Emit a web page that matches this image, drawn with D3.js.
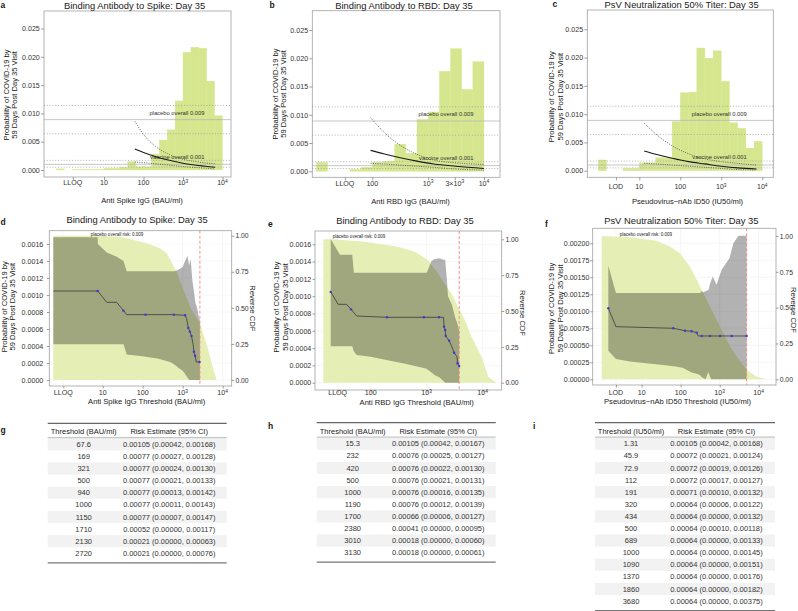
<!DOCTYPE html>
<html><head><meta charset="utf-8">
<script src="https://cdn.jsdelivr.net/npm/d3@7"></script>
<style>
body{margin:0;background:#fff;}
svg{display:block;font-family:"Liberation Sans",Arial,Helvetica,sans-serif;}
</style></head><body>
<svg id="fig" width="798" height="611"></svg>
<script>
// ================= DATA =================
// Top row histograms (log10 marker bins of width 0.2, heights read on the risk axis)
const histBinWidth = 0.2;
const spikeHistStart = -0.2;
const spikeHist = [0.0002,0,0.0001,0.0001,0.0001,0.0001,0.0003,0.0003,0.0005,0.0015,0.0006,0.0006,0.0028,0.0053,0.0071,0.0122,0.0208,0.0217,0.0215,0.0157,0.0096];
const rbdHistStart = 1.0;
const rbdHist = [0.0016,0,0,0.00035,0.0007,0.0016,0.0018,0.0048,0.0032,0.0092,0.0105,0.0177,0.0217,0.0145,0.0194];
const psvHistStart = 0.0;
const psvHist = [0.0019,0,0,0.0004,0.0004,0.0014,0.0014,0.0023,0.0023,0.0087,0.0138,0.0139,0.0217,0.0199,0.0212,0.0158,0.0085,0.0075,0.0040,0.0052];

// overall risks: [estimate, lower, upper]
const placeboOverall = [0.0089, 0.0064, 0.0114];
const vaccineOverall = [0.0010, 0.0005, 0.0017];

// Top row risk curves (x in log10 units)
const spikeCurveLog   = [1.78, 2.0, 2.3, 2.6, 3.0, 3.4, 3.81];
const spikeCurveRisk  = [0.0037, 0.0031, 0.0024, 0.0018, 0.0012, 0.0008, 0.00047];
const spikeCurveUpper = [0.0086, 0.0063, 0.0042, 0.0029, 0.0019, 0.0014, 0.0011];
const spikeCurveLower = [0.0014, 0.0013, 0.0011, 0.0009, 0.0006, 0.0004, 0.0002];
const rbdCurveLog   = [1.97, 2.2, 2.5, 2.8, 3.1, 3.5, 4.0];
const rbdCurveRisk  = [0.0037, 0.0031, 0.0024, 0.0018, 0.0013, 0.0009, 0.0005];
const rbdCurveUpper = [0.0095, 0.0070, 0.0046, 0.0030, 0.0020, 0.0015, 0.0012];
const rbdCurveLower = [0.0014, 0.0013, 0.0011, 0.0009, 0.0007, 0.0004, 0.0002];
const psvCurveLog   = [1.12, 1.4, 1.8, 2.2, 2.6, 3.0, 3.4, 3.86];
const psvCurveRisk  = [0.0035, 0.0029, 0.0022, 0.0016, 0.0012, 0.0008, 0.0005, 0.0003];
const psvCurveUpper = [0.0084, 0.0065, 0.0044, 0.0030, 0.0021, 0.0016, 0.0013, 0.0010];
const psvCurveLower = [0.0013, 0.0012, 0.0010, 0.0008, 0.0006, 0.0004, 0.0002, 0.0001];

// Axis ticks (log10) and labels
const topYTicks = [0, 0.005, 0.010, 0.015, 0.020, 0.025];
const spikeTickLog = [0.21, 1, 2, 3, 4];
const spikeTickLab = ["LLOQ", "10", "100", "10^3", "10^4"];
const rbdTickLog = [1.51, 2, 3, Math.log10(3000), 4];
const rbdTickLab = ["LLOQ", "100", "10^3", "3×10^3", "10^4"];
const psvTickLog = [0.43, 1, 2, 3, 4];
const psvTickLab = ["LOD", "10", "100", "10^3", "10^4"];
const spikeThrTickLog = [0.015, 1, 2, 3, 4];
const spikeThrTickLab = ["LLOQ", "10", "100", "10^3", "10^4"];
const rbdThrTickLog = [1.41, 2, 3, 4];
const rbdThrTickLab = ["LLOQ", "100", "10^3", "10^4"];
const psvThrTickLog = [0.34, 1, 2, 3, 4];
const psvThrTickLab = ["LOD", "10", "100", "10^3", "10^4"];
const cdfTicks = [0, 0.25, 0.5, 0.75, 1];
const riskTicksBinding = [0, 0.0002, 0.0004, 0.0006, 0.0008, 0.0010, 0.0012, 0.0014, 0.0016];
const riskTicksPsv = [0, 0.00025, 0.0005, 0.00075, 0.001, 0.00125, 0.0015, 0.00175, 0.002];

// Middle row: reverse CDF
const spikeCdfLog = [-0.235, 0.93, 1.5, 2.1, 2.43, 2.6, 2.85, 3.02, 3.22, 3.43, 3.64, 3.75, 3.85];
const spikeCdf    = [1, 1, 0.99, 0.947, 0.913, 0.878, 0.75, 0.624, 0.485, 0.393, 0.208, 0.09, 0];
const rbdCdfLog = [1.154, 1.30, 1.90, 2.49, 2.79, 3.02, 3.20, 3.35, 3.44, 3.56, 3.68, 3.80, 3.98, 4.10, 4.25];
const rbdCdf    = [1, 1, 0.983, 0.948, 0.913, 0.856, 0.763, 0.67, 0.623, 0.53, 0.437, 0.32, 0.18, 0.04, 0];
const psvCdfLog = [-0.026, 0.70, 1.38, 1.73, 1.98, 2.24, 2.50, 2.75, 3.01, 3.27, 3.44, 3.69, 3.95, 4.2];
const psvCdf    = [1, 0.991, 0.967, 0.925, 0.879, 0.786, 0.646, 0.507, 0.367, 0.228, 0.158, 0.065, 0.018, 0];

// Middle row: 95% CI ribbons
const spikeRibLog = [-0.235, 0.874, 0.88, 1.10, 1.35, 1.52, 1.60, 2.00, 2.40, 2.70, 2.80, 2.90, 3.00, 3.06, 3.12, 3.16, 3.20, 3.24, 3.28, 3.32, 3.36, 3.40, 3.43];
const spikeRibLo  = [0.00042, 0.00042, 0.00042, 0.00042, 0.00042, 0.00042, 0.00030, 0.00028, 0.00025, 0.00021, 0.00018, 0.00014, 0.00011, 0.00007, 0.00003, 0, 0, 0, 0, 0, 0, 0, 0];
const spikeRibHi  = [0.00168, 0.00168, 0.00160, 0.00150, 0.00145, 0.00140, 0.00128, 0.00128, 0.00128, 0.00128, 0.00128, 0.00130, 0.00133, 0.00140, 0.00146, 0.00135, 0.00142, 0.00118, 0.00105, 0.00090, 0.00085, 0.00075, 0.00070];
const rbdRibLog = [1.286, 1.45, 1.67, 1.70, 1.75, 2.00, 2.37, 2.62, 3.00, 3.02, 3.08, 3.14, 3.23, 3.30, 3.33, 3.36, 3.38, 3.45, 3.51, 3.55, 3.58];
const rbdRibLo  = [0.00042, 0.00042, 0.00042, 0.00036, 0.00032, 0.00030, 0.00025, 0.00022, 0.00016, 0.00015, 0.00012, 0.00009, 0.00006, 0.00002, 0, 0, 0, 0, 0, 0, 0];
const rbdRibHi  = [0.00166, 0.00148, 0.00148, 0.00127, 0.00127, 0.00127, 0.00127, 0.00127, 0.00127, 0.00130, 0.00140, 0.00143, 0.00144, 0.00142, 0.00142, 0.00120, 0.00100, 0.00090, 0.00075, 0.00068, 0.00060];
const psvRibLog = [0.144, 0.34, 0.70, 1.55, 1.86, 2.05, 2.28, 2.41, 2.50, 2.54, 2.58, 2.64, 2.70, 2.71, 2.75, 2.78, 2.82, 2.92, 3.05, 3.25, 3.35, 3.48, 3.69];
const psvRibLo  = [0.00042, 0.00030, 0.00026, 0.00021, 0.00019, 0.00017, 0.00010, 0.00008, 0.00006, 0.00003, 0.00002, 0, 0.00010, 0.00010, 0.00004, 0, 0, 0, 0, 0, 0, 0, 0];
const psvRibHi  = [0.00167, 0.00127, 0.00127, 0.00127, 0.00127, 0.00127, 0.00127, 0.00127, 0.00127, 0.00130, 0.00128, 0.00130, 0.00131, 0.00131, 0.00140, 0.00145, 0.00151, 0.00139, 0.00161, 0.00178, 0.00200, 0.00211, 0.00211];

// Middle row: threshold risk step line and points
const spikeLineLog  = [-0.235, 0.874, 1.10, 1.35, 1.52, 1.60, 2.78, 3.06, 3.10, 3.14, 3.18, 3.22, 3.26, 3.28, 3.31, 3.34, 3.42];
const spikeLineRisk = [0.001047, 0.001047, 0.000914, 0.000914, 0.000816, 0.000769, 0.000769, 0.000761, 0.00072, 0.000612, 0.000569, 0.000518, 0.00042, 0.000333, 0.000286, 0.000212, 0.000212];
const spikePtLog  = [0.874, 1.52, 2.07, 2.78, 3.06, 3.14, 3.18, 3.22, 3.28, 3.31, 3.42];
const spikePtRisk = [0.001047, 0.000816, 0.000769, 0.000769, 0.000761, 0.000612, 0.000569, 0.000518, 0.000333, 0.000286, 0.000212];
const rbdLineLog  = [1.286, 1.42, 1.57, 1.65, 1.75, 2.29, 3.30, 3.31, 3.33, 3.34, 3.40, 3.45, 3.49, 3.54, 3.55, 3.58];
const rbdLineRisk = [0.00105, 0.000906, 0.000906, 0.000848, 0.000771, 0.000756, 0.000756, 0.000647, 0.000609, 0.00054, 0.000486, 0.000416, 0.000347, 0.000301, 0.000224, 0.000193];
const rbdPtLog  = [1.286, 1.65, 2.29, 2.95, 3.22, 3.31, 3.33, 3.34, 3.40, 3.49, 3.55, 3.58];
const rbdPtRisk = [0.00105, 0.000848, 0.000756, 0.000756, 0.000756, 0.000647, 0.000609, 0.00054, 0.000486, 0.000347, 0.000224, 0.000193];
const psvLineLog  = [0.144, 0.34, 1.81, 2.11, 2.28, 2.41, 2.45, 3.69];
const psvLineRisk = [0.001044, 0.000774, 0.00075, 0.000715, 0.000706, 0.000686, 0.000637, 0.000637];
const psvPtLog  = [0.144, 1.81, 2.11, 2.28, 2.41, 2.54, 2.75, 3.01, 3.31, 3.69];
const psvPtRisk = [0.001044, 0.00075, 0.000715, 0.000706, 0.000686, 0.000637, 0.000637, 0.000637, 0.000637, 0.000637];
const spikeCutLog = 3.43, rbdCutLog = 3.58, psvCutLog = 3.69;

// Tables
const gThreshold = [67.6, 169, 321, 500, 940, 1000, 1150, 1710, 2130, 2720];
const gEst = [0.00105, 0.00077, 0.00077, 0.00077, 0.00077, 0.00077, 0.00077, 0.00052, 0.00021, 0.00021];
const gLo  = [0.00042, 0.00027, 0.00024, 0.00021, 0.00013, 0.00011, 0.00007, 0, 0, 0];
const gHi  = [0.00168, 0.00128, 0.00130, 0.00133, 0.00142, 0.00143, 0.00147, 0.00117, 0.00063, 0.00076];
const hThreshold = [15.3, 232, 420, 500, 1000, 1190, 1700, 2380, 3010, 3130];
const hEst = [0.00105, 0.00076, 0.00076, 0.00076, 0.00076, 0.00076, 0.00066, 0.00041, 0.00018, 0.00018];
const hLo  = [0.00042, 0.00025, 0.00022, 0.00021, 0.00016, 0.00012, 0.00006, 0, 0, 0];
const hHi  = [0.00167, 0.00127, 0.00130, 0.00131, 0.00135, 0.00139, 0.00127, 0.00095, 0.00060, 0.00061];
const iThreshold = [1.31, 45.9, 72.9, 112, 191, 320, 434, 500, 689, 1000, 1090, 1370, 1860, 3680];
const iEst = [0.00105, 0.00072, 0.00072, 0.00072, 0.00071, 0.00064, 0.00064, 0.00064, 0.00064, 0.00064, 0.00064, 0.00064, 0.00064, 0.00064];
const iLo  = [0.00042, 0.00021, 0.00019, 0.00017, 0.00010, 0.00006, 0, 0.00010, 0, 0, 0, 0, 0, 0];
const iHi  = [0.00168, 0.00124, 0.00126, 0.00127, 0.00132, 0.00122, 0.00132, 0.00118, 0.00133, 0.00145, 0.00151, 0.00176, 0.00182, 0.00375];

// ================= DRAWING =================
const svg = d3.select("#fig");
const FONT = '"Liberation Sans", Arial, Helvetica, sans-serif';
const HIST = "#d5e68e";
const LIGHT = "#e5eeb5";
const TXT = "#1a1a1a";
const TICKTXT = "#333";

function rich(sel, label) {
  const parts = label.split("^");
  sel.append("tspan").text(parts[0]);
  if (parts.length > 1) sel.append("tspan").attr("font-size", "0.7em").attr("dy", "-0.5em").text(parts[1]);
}
function txt(x, y, s, size, opts = {}) {
  const t = svg.append("text").attr("x", x).attr("y", y).attr("dy", "0.35em")
    .attr("font-size", size).attr("fill", opts.fill || TXT)
    .attr("text-anchor", opts.anchor || "middle").attr("font-family", FONT);
  if (opts.bold) t.attr("font-weight", "bold");
  if (opts.rotate != null) t.attr("transform", `rotate(${opts.rotate},${x},${y})`);
  t.text(s);
  return t;
}
function styleAxis(s, size) {
  s.attr("font-family", FONT);
  s.select(".domain").remove();
  s.selectAll("line").attr("stroke", "#777").attr("stroke-width", 0.7);
  s.selectAll("text").attr("font-size", size).attr("fill", TICKTXT);
}

function topPanel(p) {
  const g = svg.append("g");
  const [bx0, bx1, by0, by1] = p.box;
  const x = d3.scaleLinear().domain(p.xDomain).range(p.xRange);
  const y = d3.scaleLinear().domain([0, 0.025]).range(p.yRange);
  g.append("g").selectAll("rect").data(p.hist).join("rect")
    .attr("x", (d, i) => x(p.histStart + i * histBinWidth))
    .attr("width", (d, i) => x(p.histStart + (i + 1) * histBinWidth) - x(p.histStart + i * histBinWidth))
    .attr("y", d => y(d)).attr("height", d => y(0) - y(d))
    .attr("fill", HIST).attr("stroke", HIST).attr("stroke-width", 0.3);
  const fmt = d3.format(".3f");
  [[placeboOverall, "placebo overall ", 4.6], [vaccineOverall, "vaccine overall ", 5.6]].forEach(([arr, lab, off]) => {
    arr.forEach((v, j) => {
      g.append("line").attr("x1", bx0).attr("x2", bx1).attr("y1", y(v)).attr("y2", y(v))
        .attr("stroke", j === 0 ? "#b8b8b8" : "#a0a0a0").attr("stroke-width", 0.8)
        .attr("stroke-dasharray", j === 0 ? null : "1,1.8");
    });
    g.append("text").attr("x", bx1 - 26.5).attr("y", y(arr[0]) - off).attr("text-anchor", "end")
      .attr("font-size", 5.8).attr("fill", "#333").attr("font-family", FONT).text(lab + fmt(arr[0]));
  });
  const line = d3.line().x(d => x(d[0])).y(d => y(d[1])).curve(d3.curveMonotoneX);
  const pts = arr => p.curveLog.map((l, i) => [l, arr[i]]);
  g.append("path").attr("d", line(pts(p.upper))).attr("fill", "none").attr("stroke", "#444").attr("stroke-width", 0.8).attr("stroke-dasharray", "1,1.3");
  g.append("path").attr("d", line(pts(p.lower))).attr("fill", "none").attr("stroke", "#444").attr("stroke-width", 0.8).attr("stroke-dasharray", "1,1.3");
  g.append("path").attr("d", line(pts(p.risk))).attr("fill", "none").attr("stroke", "#1a1a1a").attr("stroke-width", 1.1);
  g.append("rect").attr("x", bx0).attr("y", by0).attr("width", bx1 - bx0).attr("height", by1 - by0)
    .attr("fill", "none").attr("stroke", "#a0a0a0").attr("stroke-width", 0.8);
  g.append("g").attr("transform", `translate(${bx0},0)`)
    .call(d3.axisLeft(y).tickValues(topYTicks).tickFormat(d3.format(".3f")).tickSize(3).tickPadding(1.2))
    .call(s => styleAxis(s, 7.1));
  g.append("g").attr("transform", `translate(0,${by1})`)
    .call(d3.axisBottom(x).tickValues(p.ticks).tickFormat("").tickSize(3))
    .call(s => styleAxis(s, 7.1));
  p.ticks.forEach((t, i) => {
    const e = svg.append("text").attr("x", x(t)).attr("y", p.tickY).attr("dy", "0.35em").attr("text-anchor", "middle")
      .attr("font-size", 7.1).attr("fill", TICKTXT).attr("font-family", FONT);
    rich(e, p.tickLab[i]);
  });
  txt(p.title[1], p.title[2], p.title[0], 9.4);
  txt(p.letter[1], p.letter[2], p.letter[0], 8.5, { bold: true, anchor: "start" });
  txt(p.xtitle[1], p.xtitle[2], p.xtitle[0], 7.6);
  txt(p.ylx[0], p.yly, "Probability of COVID-19 by", 7.6, { rotate: -90 });
  txt(p.ylx[1], p.yly, "59 Days Post Day 35 Visit", 7.6, { rotate: -90 });
}

function midPanel(p) {
  const g = svg.append("g");
  const [bx0, bx1, by0, by1] = p.box;
  const x = d3.scaleLinear().domain(p.xDomain).range(p.xRange);
  const yL = d3.scaleLinear().domain([0, p.yRef]).range(p.yLRange);
  const yR = d3.scaleLinear().domain([0, 1]).range(p.yRRange);
  p.yTicks.forEach(v => g.append("line").attr("x1", bx0).attr("x2", bx1).attr("y1", yL(v)).attr("y2", yL(v)).attr("stroke", "#ececec").attr("stroke-width", 0.5));
  p.ticks.forEach(v => g.append("line").attr("x1", x(v)).attr("x2", x(v)).attr("y1", by0).attr("y2", by1).attr("stroke", "#ececec").attr("stroke-width", 0.5));
  g.append("path").datum(p.cdfLog.map((l, i) => [l, p.cdf[i]]))
    .attr("d", d3.area().x(d => x(d[0])).y0(yR(0)).y1(d => yR(d[1])))
    .attr("fill", LIGHT);
  g.append("path").datum(p.ribLog.map((l, i) => [l, p.ribLo[i], p.ribHi[i]]))
    .attr("d", d3.area().x(d => x(d[0])).y0(d => yL(d[1])).y1(d => yL(d[2])))
    .attr("fill", "#000").attr("fill-opacity", 0.3);
  g.append("line").attr("x1", x(p.cut)).attr("x2", x(p.cut)).attr("y1", by0).attr("y2", by1)
    .attr("stroke", "#f2837a").attr("stroke-width", 0.9).attr("stroke-dasharray", "3,2");
  g.append("path").attr("d", d3.line().x(d => x(d[0])).y(d => yL(d[1]))(p.lineLog.map((l, i) => [l, p.lineRisk[i]])))
    .attr("fill", "none").attr("stroke", "#3a3a3a").attr("stroke-width", 0.8);
  g.selectAll("circle").data(p.ptLog.map((l, i) => [l, p.ptRisk[i]])).join("circle")
    .attr("cx", d => x(d[0])).attr("cy", d => yL(d[1])).attr("r", 1.2).attr("fill", "#3b3bd0");
  g.append("rect").attr("x", bx0).attr("y", by0).attr("width", bx1 - bx0).attr("height", by1 - by0)
    .attr("fill", "none").attr("stroke", "#a0a0a0").attr("stroke-width", 0.8);
  txt(p.note[0], p.note[1], "placebo overall risk: 0.009", 4.5, { fill: "#222" });
  g.append("g").attr("transform", `translate(${bx0},0)`)
    .call(d3.axisLeft(yL).tickValues(p.yTicks).tickFormat(d3.format(p.yFmt)).tickSize(2.5).tickPadding(p.lpad))
    .call(s => styleAxis(s, 7.1));
  g.append("g").attr("transform", `translate(${bx1},0)`)
    .call(d3.axisRight(yR).tickValues(cdfTicks).tickFormat(d3.format(".2f")).tickSize(2.5).tickPadding(1.2))
    .call(s => styleAxis(s, 6.8));
  g.append("g").attr("transform", `translate(0,${by1})`)
    .call(d3.axisBottom(x).tickValues(p.ticks).tickFormat("").tickSize(2.5))
    .call(s => styleAxis(s, 7.1));
  p.ticks.forEach((t, i) => {
    const e = svg.append("text").attr("x", x(t)).attr("y", p.tickY).attr("dy", "0.35em").attr("text-anchor", "middle")
      .attr("font-size", 7.1).attr("fill", TICKTXT).attr("font-family", FONT);
    rich(e, p.tickLab[i]);
  });
  txt(p.title[1], p.title[2], p.title[0], 9.4);
  txt(p.letter[1], p.letter[2], p.letter[0], 8.5, { bold: true, anchor: "start" });
  txt(p.xtitle[1], p.xtitle[2], p.xtitle[0], 7.6);
  txt(p.ylx[0], p.yly, "Probability of COVID-19 by", 7.6, { rotate: -90 });
  txt(p.ylx[1], p.yly, "59 Days Post Day 35 Visit", 7.6, { rotate: -90 });
  txt(p.rt[0], p.rt[1], "Reverse CDF", 7.6, { rotate: 90 });
}

function table(p) {
  const g = svg.append("g");
  const [x0, x1] = p.xs, top = p.top, rowH = 12.1;
  const c1 = x0 + 36, c2 = x0 + 121.5;
  const f5 = d3.format(".5f");
  const rowsTop = top + 15;
  p.thr.forEach((t, i) => {
    const ry = rowsTop + i * rowH;
    if (i % 2 === 0) g.append("rect").attr("x", x0).attr("y", ry).attr("width", x1 - x0).attr("height", rowH).attr("fill", "#f2f2f2");
    txt(c1, ry + rowH / 2, String(t), 7.5, { fill: "#333" });
    txt(c2, ry + rowH / 2, `${f5(p.est[i])} (${f5(p.lo[i])}, ${f5(p.hi[i])})`, 7.5, { fill: "#333" });
  });
  const end = rowsTop + p.thr.length * rowH + 3.5;
  g.append("line").attr("x1", x0).attr("x2", x1).attr("y1", top).attr("y2", top).attr("stroke", "#666").attr("stroke-width", 1.3);
  g.append("line").attr("x1", x0).attr("x2", x1).attr("y1", top + 14.4).attr("y2", top + 14.4).attr("stroke", "#b0b0b0").attr("stroke-width", 0.9);
  g.append("line").attr("x1", x0).attr("x2", x1).attr("y1", end).attr("y2", end).attr("stroke", "#777").attr("stroke-width", 1.3);
  txt(c1, top + 8.4, p.head, 7.5, { fill: "#222" });
  txt(c2, top + 8.4, "Risk Estimate (95% CI)", 7.5, { fill: "#222" });
  txt(p.letter[1], p.letter[2], p.letter[0], 8.5, { bold: true, anchor: "start" });
}

// ---- top row ----
topPanel({ box: [44, 231, 11, 177], xDomain: [1, 4], xRange: [104, 222.5], yRange: [170, 28.5],
  hist: spikeHist, histStart: spikeHistStart, curveLog: spikeCurveLog, risk: spikeCurveRisk, upper: spikeCurveUpper, lower: spikeCurveLower,
  ticks: spikeTickLog, tickLab: spikeTickLab, tickY: 183,
  title: ["Binding Antibody to Spike: Day 35", 134.5, 6], letter: ["a", 0.5, 5], xtitle: ["Anti Spike IgG (BAU/ml)", 142, 200.7],
  ylx: [6, 14], yly: 95 });
topPanel({ box: [312.3, 500, 10.7, 177.3], xDomain: [2, 4], xRange: [372.3, 484], yRange: [171.3, 30],
  hist: rbdHist, histStart: rbdHistStart, curveLog: rbdCurveLog, risk: rbdCurveRisk, upper: rbdCurveUpper, lower: rbdCurveLower,
  ticks: rbdTickLog, tickLab: rbdTickLab, tickY: 183.3,
  title: ["Binding Antibody to RBD: Day 35", 404, 6], letter: ["b", 269.5, 5], xtitle: ["Anti RBD IgG (BAU/ml)", 410.5, 201],
  ylx: [275, 283.3], yly: 94 });
topPanel({ box: [587.3, 773.3, 10, 177.3], xDomain: [1, 4], xRange: [639.3, 762.3], yRange: [170.7, 29.3],
  hist: psvHist, histStart: psvHistStart, curveLog: psvCurveLog, risk: psvCurveRisk, upper: psvCurveUpper, lower: psvCurveLower,
  ticks: psvTickLog, tickLab: psvTickLab, tickY: 186.5,
  title: ["PsV Neutralization 50% Titer: Day 35", 681.7, 4.5], letter: ["c", 552.5, 4.5], xtitle: ["Pseudovirus\u2212nAb ID50 (IU50/ml)", 687.5, 201],
  ylx: [551.7, 560], yly: 96.7 });

// ---- middle row ----
midPanel({ box: [49.3, 231.7, 230.7, 386], xDomain: [1, 4], xRange: [102.7, 222.7], yRef: 0.0016, yLRange: [380, 244], yRRange: [380, 235.7],
  yTicks: riskTicksBinding, yFmt: ".4f", lpad: 3.5, ticks: spikeThrTickLog, tickLab: spikeThrTickLab, tickY: 392.7,
  cdfLog: spikeCdfLog, cdf: spikeCdf, ribLog: spikeRibLog, ribLo: spikeRibLo, ribHi: spikeRibHi,
  lineLog: spikeLineLog, lineRisk: spikeLineRisk, ptLog: spikePtLog, ptRisk: spikePtRisk, cut: spikeCutLog,
  note: [117, 234.3], title: ["Binding Antibody to Spike: Day 35", 137, 220], letter: ["d", 0.5, 222.5],
  xtitle: ["Anti Spike IgG Threshold (BAU/ml)", 146.7, 401.7], ylx: [4.2, 12.7], yly: 306.7, rt: [253, 308.3] });
midPanel({ box: [315, 501.7, 231, 390], xDomain: [2, 4], xRange: [370.7, 482.7], yRef: 0.0016, yLRange: [382.7, 244.3], yRRange: [382.7, 239.3],
  yTicks: riskTicksBinding, yFmt: ".4f", lpad: 1.2, ticks: rbdThrTickLog, tickLab: rbdThrTickLab, tickY: 392.7,
  cdfLog: rbdCdfLog, cdf: rbdCdf, ribLog: rbdRibLog, ribLo: rbdRibLo, ribHi: rbdRibHi,
  lineLog: rbdLineLog, lineRisk: rbdLineRisk, ptLog: rbdPtLog, ptRisk: rbdPtRisk, cut: rbdCutLog,
  note: [359, 236.7], title: ["Binding Antibody to RBD: Day 35", 405, 220.7], letter: ["e", 268, 224],
  xtitle: ["Anti RBD IgG Threshold (BAU/ml)", 416.7, 402.7], ylx: [276.7, 285], yly: 307, rt: [522.5, 313] });
midPanel({ box: [592.7, 776, 228.3, 385], xDomain: [1, 4], xRange: [641.7, 758.7], yRef: 0.002, yLRange: [379.3, 243.3], yRRange: [379.3, 236],
  yTicks: riskTicksPsv, yFmt: ".5f", lpad: 0.8, ticks: psvThrTickLog, tickLab: psvThrTickLab, tickY: 392.7,
  cdfLog: psvCdfLog, cdf: psvCdf, ribLog: psvRibLog, ribLo: psvRibLo, ribHi: psvRibHi,
  lineLog: psvLineLog, lineRisk: psvLineRisk, ptLog: psvPtLog, ptRisk: psvPtRisk, cut: psvCutLog,
  note: [645.8, 234.3], title: ["PsV Neutralization 50% Titer: Day 35", 681.3, 220.7], letter: ["f", 545, 224],
  xtitle: ["Pseudovirus\u2212nAb ID50 Threshold (IU50/ml)", 677.5, 401.7], ylx: [551.7, 560], yly: 308.3, rt: [794, 310] });

// ---- tables ----
table({ xs: [47.7, 226.7], top: 423.3, head: "Threshold (BAU/ml)", thr: gThreshold, est: gEst, lo: gLo, hi: gHi, letter: ["g", 0.5, 430] });
table({ xs: [316.7, 495.7], top: 422.7, head: "Threshold (BAU/ml)", thr: hThreshold, est: hEst, lo: hLo, hi: hHi, letter: ["h", 268, 426] });
table({ xs: [595, 775], top: 422.7, head: "Threshold (IU50/ml)", thr: iThreshold, est: iEst, lo: iLo, hi: iHi, letter: ["i", 533, 426] });
</script>
</body></html>
